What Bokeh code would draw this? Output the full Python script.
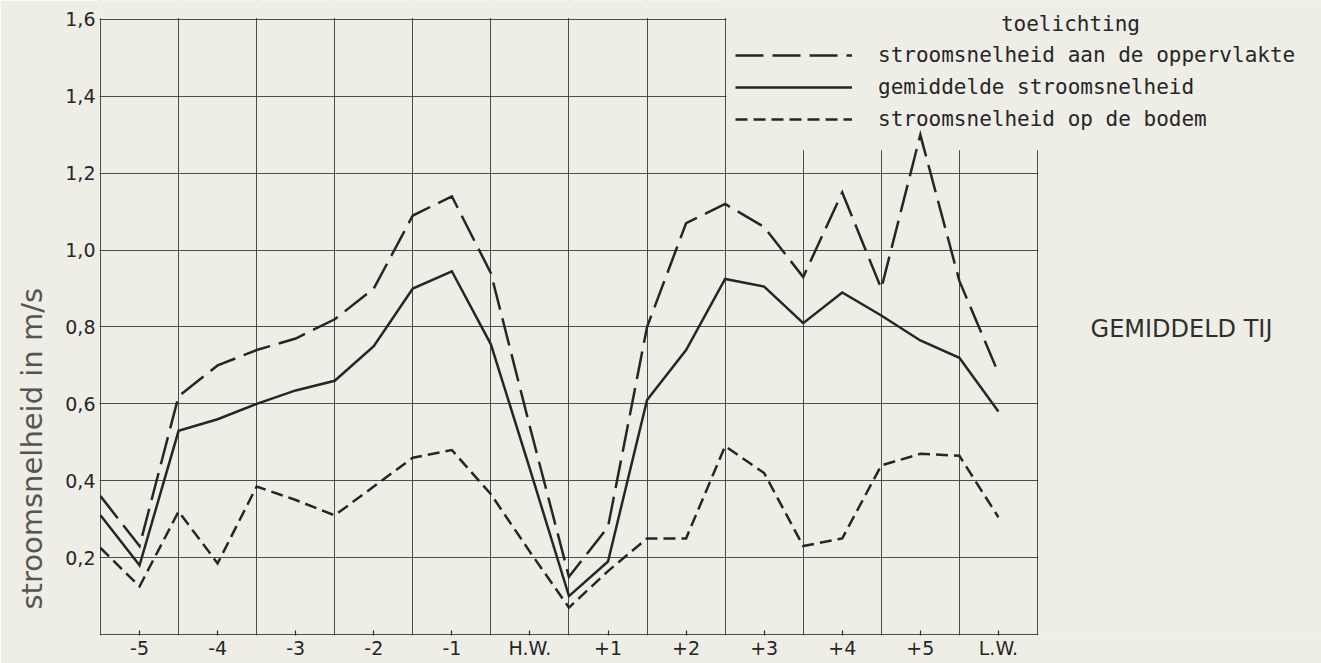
from bokeh.plotting import figure
from bokeh.models import (Range1d, FixedTicker, Legend, LegendItem, Label,
                          BoxAnnotation, Title)
from bokeh.embed import file_html
from bokeh.resources import INLINE

# ---- data ----
hours = [-5.5, -5.0, -4.5, -4.0, -3.5, -3.0, -2.5, -2.0, -1.5, -1.0, -0.5, 0.0,
         0.5, 1.0, 1.5, 2.0, 2.5, 3.0, 3.5, 4.0, 4.5, 5.0, 5.5, 6.0]
surface = [0.36, 0.23, 0.62, 0.70, 0.74, 0.77, 0.82, 0.90, 1.09, 1.14, 0.94, 0.54,
           0.15, 0.28, 0.80, 1.07, 1.12, 1.06, 0.93, 1.15, 0.90, 1.30, 0.92, 0.68]
mean = [0.31, 0.18, 0.53, 0.56, 0.60, 0.635, 0.66, 0.75, 0.90, 0.945, 0.755, 0.43,
        0.10, 0.19, 0.61, 0.74, 0.925, 0.905, 0.81, 0.89, 0.83, 0.765, 0.72, 0.58]
bottom = [0.225, 0.125, 0.32, 0.185, 0.385, 0.35, 0.31, 0.385, 0.46, 0.48, 0.365, 0.215,
          0.07, 0.165, 0.25, 0.25, 0.49, 0.42, 0.23, 0.25, 0.44, 0.47, 0.465, 0.305]

series_names = ["stroomsnelheid aan de oppervlakte",
                "gemiddelde stroomsnelheid",
                "stroomsnelheid op de bodem"]

tick_hours = [-5, -4, -3, -2, -1, 0, 1, 2, 3, 4, 5, 6]
tick_labels = ["-5", "-4", "-3", "-2", "-1", "H.W.", "+1", "+2", "+3", "+4", "+5", "L.W."]
speed_ticks = [0.2, 0.4, 0.6, 0.8, 1.0, 1.2, 1.4, 1.6]
speed_labels = ["0,2", "0,4", "0,6", "0,8", "1,0", "1,2", "1,4", "1,6"]
# graph-paper lines (half hours, every 0.2 m/s), incl. the outer frame lines
grid_hours = [-5.5, -4.5, -3.5, -2.5, -1.5, -0.5, 0.5, 1.5, 2.5, 3.5, 4.5, 5.5, 6.5]
grid_speeds = [0.0, 0.2, 0.4, 0.6, 0.8, 1.0, 1.2, 1.4, 1.6]

BG = "#eeede6"
INK = "#262626"
GRID = "#3a3a3a"

p = figure(width=1321, height=663,
           x_range=Range1d(-5.5128, 10.138), y_range=Range1d(-0.0026, 1.6494),
           output_backend="svg", toolbar_location=None,
           min_border_left=99, min_border_right=0, min_border_top=0, min_border_bottom=28)
p.background_fill_color = BG
p.border_fill_color = BG
p.outline_line_color = None

# x axis
p.xaxis.ticker = FixedTicker(ticks=tick_hours)
p.xaxis.major_label_overrides = {h: l for h, l in zip(tick_hours, tick_labels)}
p.xaxis.axis_line_color = None
p.xaxis.major_tick_in = 5
p.xaxis.major_tick_out = 0
p.xaxis.major_tick_line_color = INK
p.xaxis.major_tick_line_width = 1.2
p.xaxis.minor_tick_line_color = None
p.xaxis.major_label_standoff = 1
p.xaxis.major_label_text_font = "DejaVu Sans"
p.xaxis.major_label_text_font_size = "19px"
p.xaxis.major_label_text_color = INK

# y axis (tick labels)
yax = p.left[0]
yax.ticker = FixedTicker(ticks=speed_ticks)
yax.major_label_overrides = {t: l for t, l in zip(speed_ticks, speed_labels)}
yax.axis_line_color = None
yax.major_tick_in = 0
yax.major_tick_out = 0
yax.minor_tick_line_color = None
yax.major_label_standoff = 4
yax.major_label_text_font = "DejaVu Sans"
yax.major_label_text_font_size = "19px"
yax.major_label_text_color = INK

# y axis title, shifted down as in the original
p.add_layout(Title(text="stroomsnelheid in m/s", align="left", offset=26,
                   vertical_align="top", standoff=24,
                   text_font="DejaVu Sans", text_font_size="29px",
                   text_font_style="normal", text_color="#555555"), "left")

# grid
p.xgrid.ticker = FixedTicker(ticks=grid_hours)
p.ygrid.ticker = FixedTicker(ticks=grid_speeds)
for g in (p.xgrid, p.ygrid):
    g.grid_line_color = GRID
    g.grid_line_width = 1
    g.grid_line_alpha = 0.9
    g.level = "image"

# blank paper outside the graph-paper area and under the legend
for box in (dict(left=6.51), dict(bottom=1.604), dict(left=2.515, bottom=1.26)):
    p.add_layout(BoxAnnotation(fill_color=BG, fill_alpha=1.0, line_color=None,
                               level="underlay", **box))

common = dict(line_color=INK, line_width=2.5, line_join="miter")
r_s = p.line(hours, surface, line_dash="28 9", **common)
r_m = p.line(hours, mean, **common)
r_b = p.line(hours, bottom, line_dash="12 6", **common)

legend = Legend(items=[LegendItem(label=series_names[0], renderers=[r_s]),
                       LegendItem(label=series_names[1], renderers=[r_m]),
                       LegendItem(label=series_names[2], renderers=[r_b])],
                location=(636, 504),
                glyph_width=117, glyph_height=20, label_height=20,
                label_standoff=26, spacing=8, padding=0, margin=0,
                border_line_color=None, background_fill_alpha=0,
                label_text_font="DejaVu Sans Mono", label_text_font_size="21px",
                label_text_color=INK)
p.add_layout(legend)

p.add_layout(Label(x=6.923, y=1.587, text="toelichting", text_align="center",
                   text_baseline="alphabetic", text_font="DejaVu Sans Mono",
                   text_font_size="21px", text_color=INK))
p.add_layout(Label(x=7.18, y=0.796, text="GEMIDDELD TIJ", text_align="left",
                   text_baseline="middle", text_font="DejaVu Sans",
                   text_font_size="24px", text_color="#2f2f2f"))

open("out.html", "w").write(file_html(p, INLINE))
